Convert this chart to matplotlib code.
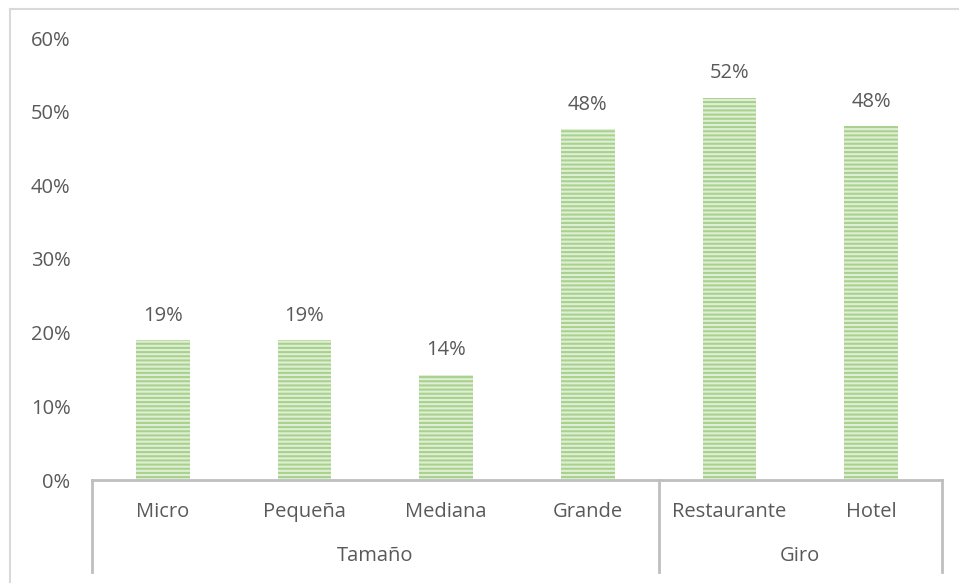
import matplotlib
matplotlib.use("Agg")
import matplotlib.pyplot as plt
from matplotlib.lines import Line2D
import matplotlib.transforms as mtransforms

categories = ["Micro", "Pequeña", "Mediana", "Grande", "Restaurante", "Hotel"]
values = [19.0, 19.0, 14.3, 47.6, 51.9, 48.0]
groups = ["Tamaño", "Giro"]
group_sizes = [4, 2]
yticks = [0, 10, 20, 30, 40, 50, 60]

plt.rcParams['font.family'] = ['Open Sans', 'DejaVu Sans']
plt.rcParams['hatch.linewidth'] = 1.5
plt.rcParams['hatch.color'] = '#A9D18E'

W, H = 959, 583
FS = 14.5
fig = plt.figure(figsize=(W/100, H/100), dpi=100)
ax = fig.add_axes([92/W, 1-480/H, (942-92)/W, (480-38)/H])

x = list(range(len(categories)))
bars = ax.bar(x, values, width=0.38, color='#DFEFD5', hatch='----')
for b in bars:
    b.set_edgecolor('#A9D18E')
    b.set_linewidth(0)

txtc = '#595959'
for xi, v in zip(x, values):
    ax.annotate(f"{round(v)}%", (xi, v), xytext=(0, 17.5), textcoords='offset points',
                ha='center', va='center', fontsize=FS, color=txtc)

ax.set_xlim(-0.5, len(categories)-0.5)
ax.set_ylim(0, 60)
ax.set_yticks(yticks)
ax.set_yticklabels([f"{t}%" for t in yticks], fontsize=FS, color=txtc)
ax.tick_params(axis='y', length=0, pad=15.5)
ax.set_xticks([])
for s in ['left', 'right', 'top']:
    ax.spines[s].set_visible(False)
ax.spines['bottom'].set_color('#BFBFBF')
ax.spines['bottom'].set_linewidth(2)

trans = mtransforms.blended_transform_factory(ax.transData, ax.transAxes)
ybot = (480-572)/442
ylab = (480-512)/442
ygrp = (480-556)/442
for xi, c in zip(x, categories):
    ax.text(xi, ylab, c, transform=trans, ha='center', va='center', fontsize=FS, color=txtc)

start = 0
seps = [-0.5]
for g, n in zip(groups, group_sizes):
    center = start + (n-1)/2
    ax.text(center, ygrp, g, transform=trans, ha='center', va='center', fontsize=FS, color=txtc)
    start += n
    seps.append(start-0.5)
for sx in seps:
    ax.add_line(Line2D([sx, sx], [0, ybot], transform=trans, color='#BFBFBF',
                       linewidth=2, clip_on=False))

# chart border (left and top visible)
fig.add_artist(Line2D([10/W, 10/W], [0, 1-9/H], transform=fig.transFigure, color='#D9D9D9', linewidth=1.5))
fig.add_artist(Line2D([10/W, 1], [1-9/H, 1-9/H], transform=fig.transFigure, color='#D9D9D9', linewidth=1.5))

fig.savefig("out.png", dpi=100)
